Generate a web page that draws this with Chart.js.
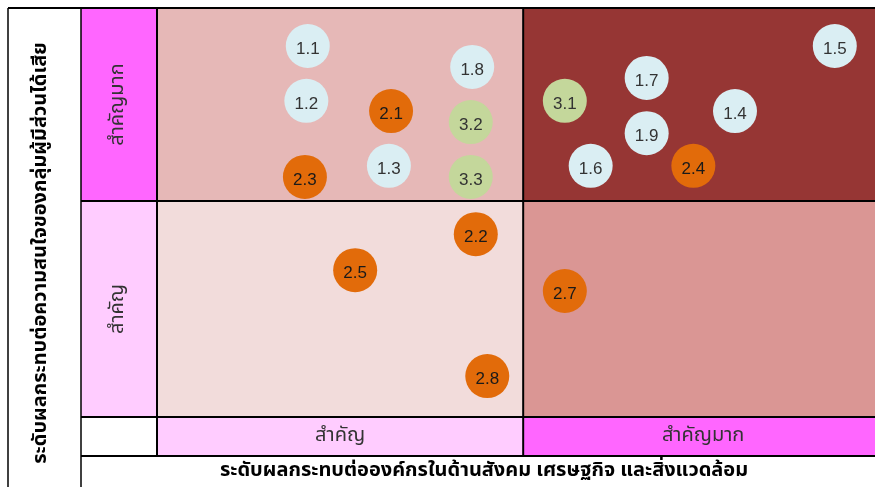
<!DOCTYPE html>
<html>
<head>
<meta charset="utf-8">
<script src="https://cdn.jsdelivr.net/npm/chart.js@4.4.1/dist/chart.umd.min.js"></script>
<style>
  html, body { margin: 0; padding: 0; background: #fff; }
  #wrap { width: 875px; height: 487px; }
</style>
</head>
<body>
<div id="wrap"><canvas id="matrix" width="875" height="487"></canvas></div>
<script>
// axis labels
const xTitle = 'ระดับผลกระทบต่อองค์กรในด้านสังคม เศรษฐกิจ และสิ่งแวดล้อม';
const yTitle = 'ระดับผลกระทบต่อความสนใจของกลุ่มผู้มีส่วนได้เสีย';
const levelLabels = ['สำคัญ', 'สำคัญมาก'];
const X_SPLIT = 51;
const Y_SPLIT = 52.8;

// issues, group 1 (blue)
const group1Ids = ['1.1', '1.2', '1.3', '1.4', '1.5', '1.6', '1.7', '1.8', '1.9'];
const group1X = [21.0, 20.8, 32.3, 80.5, 94.4, 60.4, 68.2, 43.9, 68.2];
const group1Y = [90.7, 77.3, 61.4, 74.8, 90.7, 61.4, 82.9, 85.6, 69.4];

// group 2 (orange)
const group2Ids = ['2.1', '2.2', '2.3', '2.4', '2.5', '2.7', '2.8'];
const group2X = [32.6, 44.4, 20.6, 74.7, 27.6, 56.8, 46.0];
const group2Y = [74.8, 44.7, 58.7, 61.4, 35.9, 30.8, 10.0];

// group 3 (green)
const group3Ids = ['3.1', '3.2', '3.3'];
const group3X = [56.8, 43.7, 43.7];
const group3Y = [77.3, 72.1, 58.7];

const THAI_FONT = 'Tahoma, "Noto Sans Thai", "Noto Sans", sans-serif';

function points(xs, ys, ids) {
  return xs.map((x, i) => ({ x: x, y: ys[i], id: ids[i] }));
}

const matrixPlugin = {
  id: 'matrix',
  beforeDatasetsDraw(chart) {
    const { ctx, chartArea: a, scales } = chart;
    const sx = scales.x.getPixelForValue(X_SPLIT);
    const sy = scales.y.getPixelForValue(Y_SPLIT);
    const W = chart.width, H = chart.height;
    const colL = 8, colM = 81;
    const rowB = 456;

    ctx.save();
    // quadrants
    ctx.fillStyle = '#E6B8B7'; ctx.fillRect(a.left, a.top, sx - a.left, sy - a.top);
    ctx.fillStyle = '#963634'; ctx.fillRect(sx, a.top, a.right - sx, sy - a.top);
    ctx.fillStyle = '#F2DCDB'; ctx.fillRect(a.left, sy, sx - a.left, a.bottom - sy);
    ctx.fillStyle = '#DA9694'; ctx.fillRect(sx, sy, a.right - sx, a.bottom - sy);
    // level cells
    ctx.fillStyle = '#FF66FF'; ctx.fillRect(colM, a.top, a.left - colM, sy - a.top);
    ctx.fillStyle = '#FFCCFF'; ctx.fillRect(colM, sy, a.left - colM, a.bottom - sy);
    ctx.fillStyle = '#FFCCFF'; ctx.fillRect(a.left, a.bottom, sx - a.left, rowB - a.bottom);
    ctx.fillStyle = '#FF66FF'; ctx.fillRect(sx, a.bottom, a.right - sx, rowB - a.bottom);

    // borders
    ctx.strokeStyle = '#000';
    const line = (x1, y1, x2, y2, w) => {
      ctx.lineWidth = w;
      ctx.beginPath(); ctx.moveTo(x1, y1); ctx.lineTo(x2, y2); ctx.stroke();
    };
    line(colL, a.top, W, a.top, 2);
    line(colL, a.top, colL, H, 1.5);
    line(colM, a.top, colM, H, 1.5);
    line(a.left, a.top, a.left, rowB, 2);
    line(sx, a.top, sx, rowB, 2);
    line(colM, sy, W, sy, 2);
    line(colM, a.bottom, W, a.bottom, 2);
    line(colM, rowB, W, rowB, 2);

    // level labels
    ctx.fillStyle = '#333';
    ctx.font = '20px ' + THAI_FONT;
    ctx.textAlign = 'center';
    ctx.textBaseline = 'middle';
    ctx.fillText(levelLabels[0], (a.left + sx) / 2, (a.bottom + rowB) / 2);
    ctx.fillText(levelLabels[1], (sx + a.right) / 2 + 4, (a.bottom + rowB) / 2);
    const cx = (colM + a.left) / 2;
    [[levelLabels[1], (a.top + sy) / 2], [levelLabels[0], (sy + a.bottom) / 2]].forEach(([t, cy]) => {
      ctx.save();
      ctx.translate(cx, cy);
      ctx.rotate(-Math.PI / 2);
      ctx.fillText(t, 0, 0);
      ctx.restore();
    });

    // titles
    ctx.fillStyle = '#000';
    ctx.font = 'bold 20px ' + THAI_FONT;
    ctx.fillText(xTitle, 484, 472);
    ctx.save();
    ctx.translate(42, 253);
    ctx.rotate(-Math.PI / 2);
    ctx.fillText(yTitle, 0, 0);
    ctx.restore();
    ctx.restore();
  },
  afterDatasetsDraw(chart) {
    const { ctx } = chart;
    ctx.save();
    ctx.font = '17px "Liberation Sans", Arial, sans-serif';
    ctx.textAlign = 'center';
    ctx.textBaseline = 'middle';
    chart.data.datasets.forEach((ds, i) => {
      const meta = chart.getDatasetMeta(i);
      meta.data.forEach((pt, j) => {
        ctx.fillStyle = ds.labelColor;
        ctx.fillText(ds.data[j].id, pt.x, pt.y + 3);
      });
    });
    ctx.restore();
  }
};

new Chart(document.getElementById('matrix'), {
  type: 'scatter',
  data: {
    datasets: [
      { label: 'group1', data: points(group1X, group1Y, group1Ids), backgroundColor: '#DAEEF3', labelColor: '#333' },
      { label: 'group2', data: points(group2X, group2Y, group2Ids), backgroundColor: '#E26B0A', labelColor: '#1a1a1a' },
      { label: 'group3', data: points(group3X, group3Y, group3Ids), backgroundColor: '#C4D79B', labelColor: '#333' }
    ]
  },
  options: {
    responsive: false,
    animation: false,
    layout: { autoPadding: false, padding: { left: 157, top: 8, right: 0, bottom: 70 } },
    elements: { point: { radius: 22, hoverRadius: 22, borderWidth: 0 } },
    scales: {
      x: { type: 'linear', min: 0, max: 100, display: false },
      y: { type: 'linear', min: 0, max: 100, display: false }
    },
    plugins: { legend: { display: false }, tooltip: { enabled: false } },
    clip: false
  },
  plugins: [matrixPlugin]
});
</script>
</body>
</html>
